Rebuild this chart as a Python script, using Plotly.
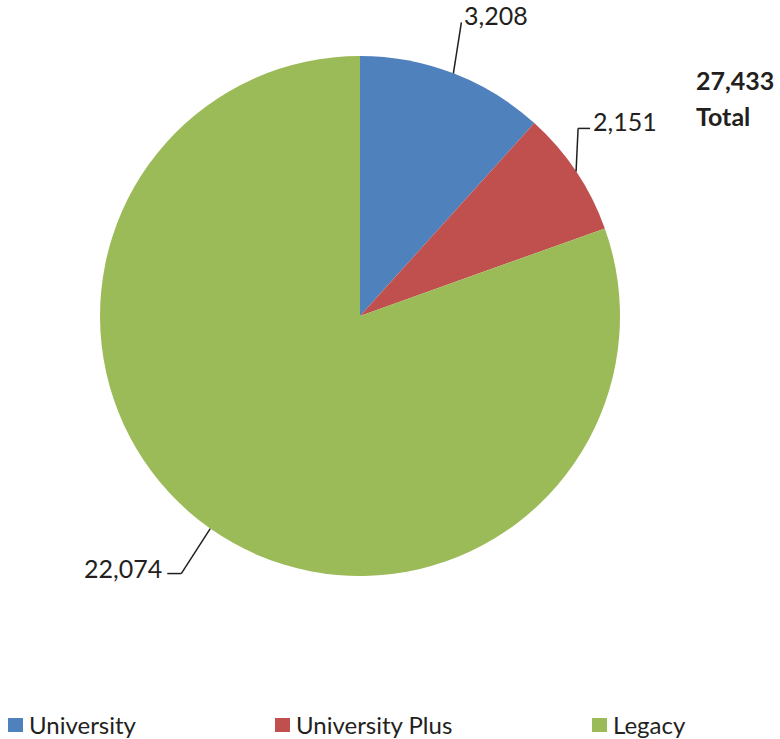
import math
import plotly.graph_objects as go

labels = ["University", "University Plus", "Legacy"]
values = [3208, 2151, 22074]
colors = ["#4F81BD", "#C0504D", "#9BBB59"]
value_text = ["3,208", "2,151", "22,074"]
total_text = "27,433"
total_label = "Total"

W, H = 780, 739
CX, CY, R = 360, 316, 260  # pie centre / radius in px

def px(x):
    return x / W

def py(y):
    return 1 - y / H

fig = go.Figure(go.Pie(
    labels=labels, values=values, sort=False, direction="clockwise", rotation=0,
    marker=dict(colors=colors, line=dict(width=0)),
    textinfo="none", hoverinfo="label+value", showlegend=False,
    domain=dict(x=[px(CX - R), px(CX + R)], y=[py(CY + R), py(CY - R)]),
))

# leader lines & labels computed from slice mid-angles
# per-label style: (dx, dy) of elbow from edge, horizontal tail length, side
styles = [((8, -51), 0, "right"), ((2, -43), 12, "right"), ((-29, 45), -14, "left")]
font = dict(family="Lato, sans-serif", size=25, color="#231F20")
total = sum(values)
cum = 0
shapes, annos = [], []
for lab, v, t, (d, tail, side) in zip(labels, values, value_text, styles):
    mid = (cum + v / 2) / total * 2 * math.pi
    cum += v
    ex, ey = CX + R * math.sin(mid), CY - R * math.cos(mid)
    kx, ky = ex + d[0], ey + d[1]
    shapes.append(dict(type="line", xref="paper", yref="paper", x0=px(ex), y0=py(ey),
                       x1=px(kx), y1=py(ky), line=dict(color="#231F20", width=1.5)))
    endx = kx + tail
    if tail:
        shapes.append(dict(type="line", xref="paper", yref="paper", x0=px(kx), y0=py(ky),
                           x1=px(endx), y1=py(ky), line=dict(color="#231F20", width=1.5)))
    if side == "right":
        annos.append(dict(x=px(endx + 1), y=py(ky - 7), xref="paper", yref="paper", text=t,
                          showarrow=False, xanchor="left", yanchor="middle", font=font))
    else:
        annos.append(dict(x=px(endx - 3), y=py(ky - 6), xref="paper", yref="paper", text=t,
                          showarrow=False, xanchor="right", yanchor="middle", font=font))

tfont = dict(family="Lato, sans-serif", size=25, color="#231F20")
annos.append(dict(x=px(694), y=py(80), xref="paper", yref="paper",
                  text=f"<b>{total_text}</b>", showarrow=False,
                  xanchor="left", yanchor="middle", align="left", font=tfont))
annos.append(dict(x=px(694), y=py(116), xref="paper", yref="paper",
                  text=f"<b>{total_label}</b>", showarrow=False,
                  xanchor="left", yanchor="middle", align="left", font=tfont))

# legend drawn as squares + text
leg_x = [8, 275, 592]
for lx, lab, c in zip(leg_x, labels, colors):
    shapes.append(dict(type="rect", xref="paper", yref="paper", x0=px(lx), x1=px(lx + 15),
                       y0=py(732), y1=py(718), fillcolor=c, line=dict(width=0)))
    annos.append(dict(x=px(lx + 19), y=py(724), xref="paper", yref="paper", text=lab,
                      showarrow=False, xanchor="left", yanchor="middle",
                      font=dict(family="Lato, sans-serif", size=24, color="#231F20")))

fig.update_layout(width=W, height=H, margin=dict(l=0, r=0, t=0, b=0),
                  paper_bgcolor="white", plot_bgcolor="white",
                  shapes=shapes, annotations=annos)
fig.write_html("out.html", config={"displayModeBar": False},
               post_script="document.body.style.margin='0';document.body.style.overflow='hidden';")
